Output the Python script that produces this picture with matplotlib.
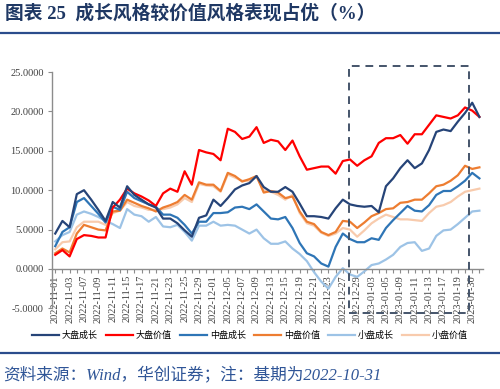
import numpy as np
import matplotlib.pyplot as plt
from matplotlib.lines import Line2D
from matplotlib.patches import Rectangle
from matplotlib.ticker import FormatStrFormatter

plt.rcParams['font.family'] = ['Liberation Serif', 'Noto Sans CJK SC']
plt.rcParams['axes.unicode_minus'] = False

# every second trading day is labelled, 60 trading days in total
tick_labels = ["2022-11-01", "2022-11-03", "2022-11-07", "2022-11-09", "2022-11-11",
               "2022-11-15", "2022-11-17", "2022-11-21", "2022-11-23", "2022-11-25",
               "2022-11-29", "2022-12-01", "2022-12-05", "2022-12-07", "2022-12-09",
               "2022-12-13", "2022-12-15", "2022-12-19", "2022-12-21", "2022-12-23",
               "2022-12-27", "2022-12-29", "2023-01-03", "2023-01-05", "2023-01-09",
               "2023-01-11", "2023-01-13", "2023-01-17", "2023-01-19", "2023-01-30"]

large_growth = [4.5, 6.1, 5.3, 9.5, 10.0, 8.8, 7.5, 6.1, 8.5, 7.8,
                10.5, 9.4, 8.8, 8.2, 7.8, 6.4, 6.4, 5.8, 4.9, 4.1,
                6.5, 6.8, 8.8, 8.0, 9.0, 10.1, 10.6, 10.9, 11.8, 10.4,
                9.8, 9.8, 10.4, 9.8, 8.3, 6.7, 6.7, 6.6, 6.4, 7.7,
                8.8, 8.2, 8.0, 7.9, 8.0, 7.2, 10.5, 11.5, 12.8, 13.8,
                12.8, 13.4, 15.1, 17.4, 17.7, 17.5, 18.7, 19.8, 21.1, 19.3]
large_value = [1.8, 2.4, 1.6, 3.8, 4.3, 4.2, 4.0, 4.0, 7.8, 8.8,
               10.2, 9.6, 9.2, 8.7, 8.0, 9.6, 10.2, 9.8, 12.4, 10.7,
               15.1, 14.8, 14.6, 13.8, 17.8, 17.4, 16.5, 16.8, 18.0, 16.0,
               16.4, 16.2, 15.1, 16.3, 14.3, 12.6, 12.8, 13.0, 13.0, 12.1,
               13.7, 13.9, 13.1, 13.8, 14.3, 16.0, 16.6, 16.6, 17.0, 15.9,
               17.1, 17.1, 18.3, 19.5, 19.3, 19.1, 19.5, 20.5, 20.1, 19.3]
mid_growth = [2.9, 4.7, 5.3, 8.5, 9.0, 8.0, 7.0, 5.9, 7.9, 7.5,
              9.8, 9.0, 8.6, 8.2, 7.9, 6.9, 6.9, 6.5, 5.6, 4.5,
              6.0, 6.0, 7.1, 7.1, 7.2, 7.8, 7.9, 7.6, 8.2, 7.3,
              6.4, 6.3, 6.6, 5.2, 3.3, 2.0, 1.6, 0.7, 0.3, 2.8,
              4.5, 3.8, 3.4, 3.4, 3.9, 3.7, 5.2, 6.2, 7.1, 8.0,
              7.4, 7.3, 8.1, 9.4, 9.9, 9.9, 10.5, 11.2, 12.2, 11.5]
mid_value = [2.0, 2.6, 2.1, 4.5, 5.6, 5.3, 5.0, 4.9, 7.3, 7.4,
             8.8, 8.4, 8.0, 7.7, 7.3, 7.8, 8.1, 8.5, 9.4, 8.8,
             11.0, 10.7, 10.7, 9.9, 12.2, 11.8, 11.1, 11.4, 11.8, 9.7,
             9.9, 9.7, 9.0, 9.2, 7.3, 6.0, 5.7, 4.7, 4.3, 4.7,
             6.1, 6.0, 5.2, 5.9, 6.7, 7.1, 7.6, 7.7, 8.4, 8.5,
             8.8, 8.8, 9.6, 10.5, 10.7, 11.2, 11.9, 13.1, 12.7, 12.9]
small_growth = [3.5, 4.3, 4.7, 6.9, 7.3, 7.0, 6.6, 6.1, 5.7, 5.2,
                7.6, 6.9, 6.7, 6.0, 6.6, 5.4, 5.3, 5.6, 4.7, 3.6,
                5.5, 5.5, 6.0, 5.5, 5.6, 5.5, 5.0, 4.5, 5.0, 3.9,
                3.2, 3.2, 3.5, 2.6, 1.9, 1.0, -0.4, -1.6, -2.5, -1.0,
                0.1, -0.7, -1.0, -0.3, 0.5, 0.7, 1.2, 1.8, 2.8, 3.3,
                3.4, 2.3, 2.6, 4.2, 4.9, 5.0, 5.7, 6.5, 7.3, 7.4]
small_value = [2.5, 3.4, 3.5, 5.3, 6.0, 6.0, 6.0, 5.6, 7.1, 7.4,
               8.5, 8.0, 7.8, 7.5, 7.5, 7.6, 7.8, 8.2, 9.0, 8.5,
               10.8, 10.6, 10.5, 9.8, 12.0, 11.6, 11.2, 11.2, 11.7, 10.0,
               9.8, 9.4, 8.8, 9.4, 7.1, 5.8, 5.5, 4.6, 4.2, 4.5,
               5.2, 5.0, 4.1, 4.9, 5.8, 6.4, 6.9, 6.6, 6.3, 6.3,
               6.2, 6.1, 7.1, 7.9, 8.1, 8.5, 9.2, 9.8, 10.0, 10.2]

names = ["大盘成长", "大盘价值", "中盘成长", "中盘价值", "小盘成长", "小盘价值"]
colors = ["#264478", "#FF0000", "#2E75B6", "#ED7D31", "#9DC3E6", "#F8CBAD"]
data = [large_growth, large_value, mid_growth, mid_value, small_growth, small_value]
# highlighted window (in trading-day index units)
box_start, box_end = 40.8, 57.5

fig = plt.figure(figsize=(5, 3.89), dpi=100)
ax = fig.add_axes([0.104, 0.2072, 0.862, 0.6077])

x = np.arange(len(large_growth))
# draw light lines first so dark ones sit on top
order = [5, 4, 3, 2, 1, 0]
handles = {}
for i in order:
    h, = ax.plot(x, data[i], color=colors[i], lw=1.6, label=names[i])
    handles[i] = h

ax.set_xlim(-0.45, 59.5)
ax.set_ylim(-5, 25)
ax.set_yticks(np.arange(-5, 26, 5))
ax.yaxis.set_major_formatter(FormatStrFormatter('%.4f'))
ax.set_xticks(x)
ax.set_xticklabels([tick_labels[i // 2] if i % 2 == 0 else "" for i in x])

for s in ['top', 'right']:
    ax.spines[s].set_visible(False)
ax.spines['bottom'].set_position(('data', 0))
for s in ['left', 'bottom']:
    ax.spines[s].set_color('#8C8C8C')
    ax.spines[s].set_linewidth(1.0)
ax.tick_params(axis='x', rotation=90, labelsize=7.4, length=3, colors='#8C8C8C',
               labelcolor='#404040', pad=1.5)
ax.tick_params(axis='y', labelsize=7.5, length=3, colors='#8C8C8C',
               labelcolor='#404040', pad=3)

ax.add_patch(Rectangle((box_start, -5.6), box_end - box_start, 31.3, fill=False,
                       ls=(0, (4, 3)), lw=1.4, ec='#44546A', clip_on=False, zorder=5))

fig.legend([handles[i] for i in range(6)], names, loc='center',
           bbox_to_anchor=(0.5, 1 - 335.7 / 389), ncol=6, frameon=False,
           prop={'family': 'Noto Sans CJK SC', 'size': 6.5},
           handlelength=3.0, handletextpad=0.3, columnspacing=0.9)

fig.text(0.01, 1 - 13 / 389, "图表 25  成长风格较价值风格表现占优（%）", fontsize=13.5,
         fontweight='bold', color='#1F3864', va='center', ha='left')
fig.add_artist(Line2D([0, 1], [1 - 33 / 389] * 2, color='#2B4C8C', lw=1.6,
                      transform=fig.transFigure))
fig.add_artist(Line2D([0, 1], [1 - 353 / 389] * 2, color='#2B4C8C', lw=1.6,
                      transform=fig.transFigure))
fig.text(0.006, 1 - 375 / 389, "资料来源：Wind，华创证券；注：基期为2022-10-31",
         fontsize=12, style='italic', color='#2F5597', va='center', ha='left')

fig.savefig("out.png", dpi=100)
